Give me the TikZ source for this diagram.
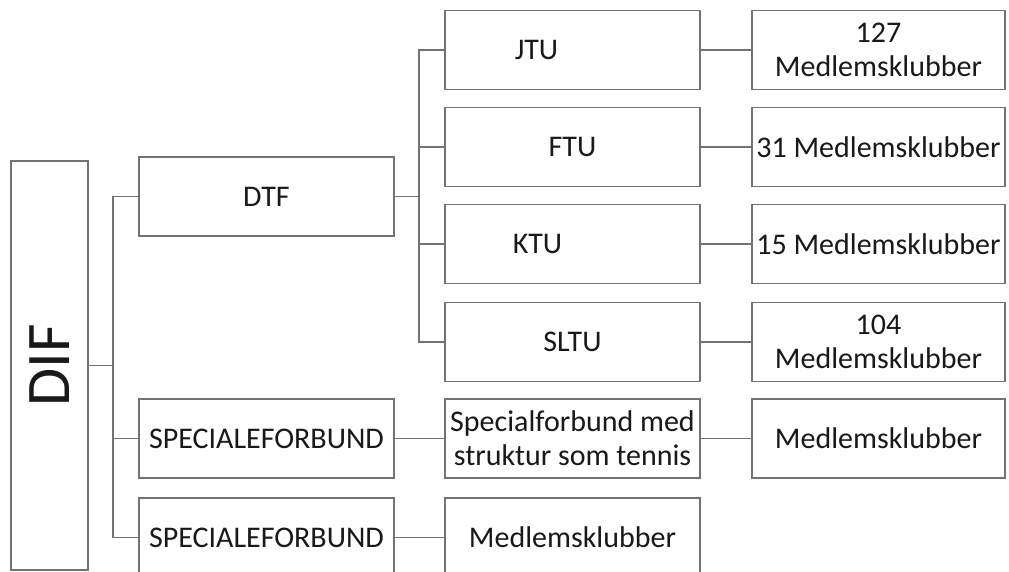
\documentclass[tikz,border=0pt]{standalone}
\usepackage{fontspec}
\setmainfont{Carlito}
\begin{document}
\begin{tikzpicture}[x=1pt,y=-1pt,
  box/.style={draw=black!55, line width=1.3pt, fill=white, minimum height=79pt, inner sep=0pt,
    font=\fontsize{30}{34}\selectfont, align=center, text=black!90},
  midbox/.style={box, minimum width=255pt},
  rbox/.style={box, minimum width=253pt},
  conn/.style={draw=black!55, line width=1.3pt}]
\useasboundingbox (0,0) rectangle (1009,572);
\clip (0,0) rectangle (1009,572);
% left column
\node[box, minimum width=77pt, minimum height=409pt] (DIF) at (49.5,365.5)
  {\rotatebox{90}{\fontsize{62}{62}\selectfont DIF}};
\node[midbox] (DTF) at (266.5,196.5) {DTF};
\node[midbox] (S1) at (266.5,438.5) {SPECIALEFORBUND};
\node[midbox] (S2) at (266.5,537.5) {SPECIALEFORBUND};
% middle column
\node[midbox] (JTU) at (572.5,50) {JTU\hspace*{72pt}};
\node[midbox] (FTU) at (572.5,147) {FTU};
\node[midbox] (KTU) at (572.5,244) {KTU\hspace*{70pt}};
\node[midbox] (SLTU) at (572.5,342) {SLTU};
\node[midbox] (SP) at (572.5,438.5) {Specialforbund med\\struktur som tennis};
\node[midbox] (M2) at (572.5,537.5) {Medlemsklubber};
% right column
\node[rbox] (R1) at (878.5,50) {127\\Medlemsklubber};
\node[rbox] (R2) at (878.5,147) {31 Medlemsklubber};
\node[rbox] (R3) at (878.5,244) {15 Medlemsklubber};
\node[rbox] (R4) at (878.5,342) {104\\Medlemsklubber};
\node[rbox] (R5) at (878.5,438.5) {Medlemsklubber};
% buses
\coordinate (b1) at (113,365.5);
\coordinate (b2) at (419,196.5);
\draw[conn] (DIF.east) -- (b1);
\draw[conn] (DTF.west) -| (b1) |- (S2.west);
\draw[conn] (b1) |- (S1.west);
\draw[conn] (DTF.east) -- (b2);
\draw[conn] (JTU.west) -| (b2) |- (SLTU.west);
\draw[conn] (b2) |- (FTU.west);
\draw[conn] (b2) |- (KTU.west);
% horizontal links
\draw[conn] (JTU.east) -- (R1.west);
\draw[conn] (FTU.east) -- (R2.west);
\draw[conn] (KTU.east) -- (R3.west);
\draw[conn] (SLTU.east) -- (R4.west);
\draw[conn] (SP.east) -- (R5.west);
\draw[conn] (S1.east) -- (SP.west);
\draw[conn] (S2.east) -- (M2.west);
\end{tikzpicture}
\end{document}
